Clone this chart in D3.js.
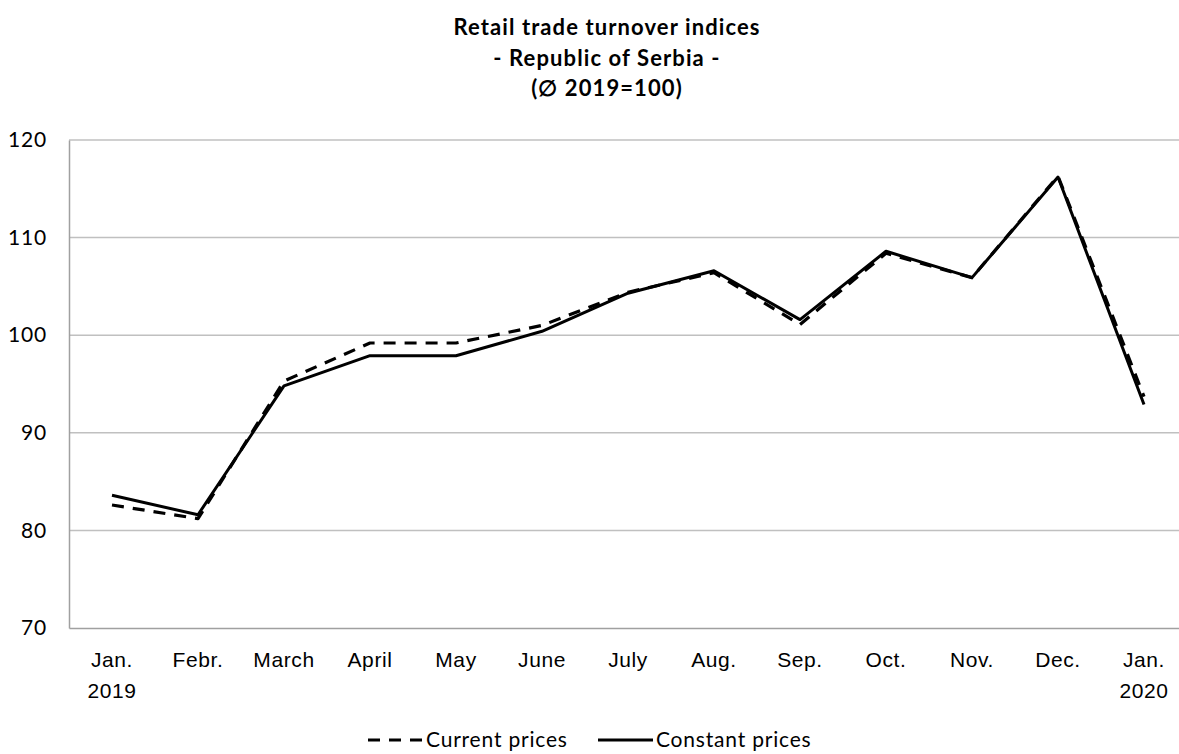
<!DOCTYPE html>
<html>
<head>
<meta charset="utf-8">
<script src="https://cdn.jsdelivr.net/npm/d3@7"></script>
<style>
  html, body { margin: 0; padding: 0; background: #fff; overflow: hidden; }
  svg { display: block; font-family: Lato, "Open Sans", sans-serif; }
</style>
</head>
<body>
<svg id="chart" width="1179" height="754"></svg>
<script>
const months = ["Jan.", "Febr.", "March", "April", "May", "June", "July", "Aug.", "Sep.", "Oct.", "Nov.", "Dec.", "Jan."];
const years = ["2019", "", "", "", "", "", "", "", "", "", "", "", "2020"];
const currentPrices = [82.6, 81.2, 95.3, 99.2, 99.2, 101.0, 104.4, 106.4, 101.1, 108.4, 105.9, 116.3, 93.7];
const constantPrices = [83.6, 81.6, 94.8, 97.9, 97.9, 100.4, 104.3, 106.6, 101.6, 108.6, 105.9, 116.2, 92.9];
const yTicks = [70, 80, 90, 100, 110, 120];
const titleLines = ["Retail trade turnover indices", "- Republic of Serbia -", "(\u2205 2019=100)"];
const seriesNames = ["Current prices", "Constant prices"];

const svg = d3.select("#chart");
const margin = { left: 69, top: 140, bottom: 628 };
const step = 86;
const idx = months.map((d, i) => i);
const FS = 21;

const x = d3.scaleBand().domain(idx).range([margin.left, margin.left + step * months.length]);
const y = d3.scaleLinear().domain([70, 120]).range([margin.bottom, margin.top]);
const cx = i => x(i) + x.bandwidth() / 2;

// Title
svg.append("g").selectAll("text").data(titleLines).join("text")
  .attr("x", 607).attr("y", (d, i) => 35 + i * 30.5)
  .attr("text-anchor", "middle")
  .attr("font-weight", "bold").attr("font-size", 22).attr("letter-spacing", 1.1).attr("fill", "#000")
  .text(d => d);

// Gridlines
svg.append("g").selectAll("line").data(yTicks.filter(t => t !== 70)).join("line")
  .attr("x1", margin.left).attr("x2", x.range()[1])
  .attr("y1", d => y(d)).attr("y2", d => y(d))
  .attr("stroke", "#c0c0c0").attr("stroke-width", 1.5);

// Y axis
const yAxis = svg.append("g").attr("transform", `translate(${margin.left},0)`)
  .call(d3.axisLeft(y).tickValues(yTicks).tickSize(0).tickPadding(22));
yAxis.select(".domain").attr("stroke", "#a0a0a0").attr("stroke-width", 1.5);
yAxis.selectAll("text").attr("font-size", FS).attr("letter-spacing", 0.8).attr("fill", "#000").attr("font-family", "Lato, sans-serif");

// X axis
const xAxis = svg.append("g").attr("transform", `translate(0,${margin.bottom})`)
  .call(d3.axisBottom(x).tickSize(0).tickFormat(() => ""));
xAxis.select(".domain").attr("stroke", "#a0a0a0").attr("stroke-width", 1.5);
xAxis.selectAll(".tick").each(function (d) {
  const g = d3.select(this);
  g.append("text").attr("y", 39).attr("text-anchor", "middle")
    .attr("font-size", FS).attr("letter-spacing", 0.6).attr("fill", "#000").text(months[d]);
  if (years[d]) {
    g.append("text").attr("y", 70).attr("text-anchor", "middle")
      .attr("font-size", FS).attr("letter-spacing", 0.6).attr("fill", "#000").text(years[d]);
  }
});

// Lines
const line = d3.line().x((d, i) => cx(i)).y(d => y(d));
svg.append("path").datum(currentPrices)
  .attr("d", line).attr("fill", "none").attr("stroke", "#000")
  .attr("stroke-width", 3.2).attr("stroke-dasharray", "12,9").attr("stroke-linejoin", "round");
svg.append("path").datum(constantPrices)
  .attr("d", line).attr("fill", "none").attr("stroke", "#000")
  .attr("stroke-width", 3).attr("stroke-linejoin", "round");

// Legend
const legend = svg.append("g");
const items = [
  { name: seriesNames[0], x0: 368, dash: "12,9" },
  { name: seriesNames[1], x0: 598, dash: null }
];
items.forEach(it => {
  legend.append("line").attr("x1", it.x0).attr("x2", it.x0 + 55)
    .attr("y1", 740).attr("y2", 740)
    .attr("stroke", "#000").attr("stroke-width", 3.2)
    .attr("stroke-dasharray", it.dash);
  legend.append("text").attr("x", it.x0 + 58).attr("y", 747)
    .attr("font-size", FS).attr("letter-spacing", 0.8).attr("fill", "#000").text(it.name);
});
</script>
</body>
</html>
